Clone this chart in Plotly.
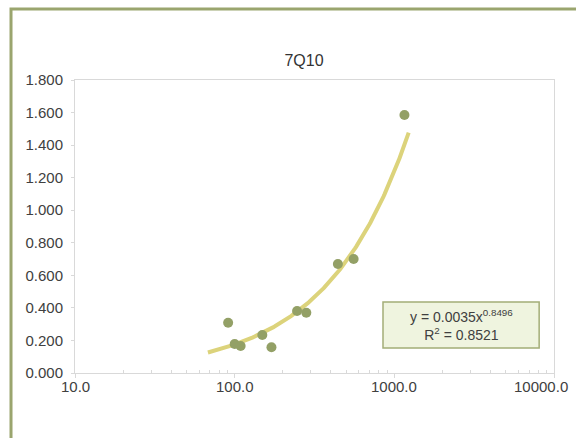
import numpy as np
import plotly.graph_objects as go

# Observed flows and 7Q10 values
flow = [91, 100, 109, 149, 170, 246, 281, 443, 556, 1157]
q7_10 = [0.309, 0.178, 0.166, 0.233, 0.158, 0.381, 0.370, 0.670, 0.700, 1.585]

# Power-law trendline y = a * x^b, reported R²
coef_a = 0.0035
coef_b = 0.8496
r_squared = 0.8521
trend_span = [68, 1230]

x_ticks = [10, 100, 1000, 10000]
x_tick_labels = ["10.0", "100.0", "1000.0", "10000.0"]
y_ticks = [0.0, 0.2, 0.4, 0.6, 0.8, 1.0, 1.2, 1.4, 1.6, 1.8]

FONT = "Liberation Sans, Arial, sans-serif"
TXT = "#404040"
AXIS = "#d9d9d9"

xt = np.logspace(np.log10(trend_span[0]), np.log10(trend_span[1]), 200)
yt = coef_a * xt ** coef_b

# minor ticks at 2..9 within each decade
minor_vals = [m * d for d in x_ticks[:-1] for m in range(2, 10)]

fig = go.Figure()
fig.add_trace(go.Scatter(x=xt, y=yt, mode="lines",
                         line=dict(color="#dcd37b", width=4),
                         hoverinfo="skip", showlegend=False))
fig.add_trace(go.Scatter(x=flow, y=q7_10, mode="markers",
                         marker=dict(color="#93a066", size=10),
                         showlegend=False))

fig.update_xaxes(type="log", range=[1, 4], tickvals=x_ticks,
                 showticklabels=False, ticks="outside", ticklen=4,
                 tickcolor=AXIS, showline=True, linecolor=AXIS, linewidth=1,
                 mirror=True, showgrid=False, zeroline=False,
                 minor=dict(tickvals=minor_vals, ticks="inside", ticklen=3,
                            tickcolor=AXIS, showgrid=False))
fig.update_yaxes(range=[0, 1.8], tickvals=y_ticks, tickformat=".3f",
                 ticks="outside", ticklen=3, tickcolor=AXIS,
                 ticklabelstandoff=5,
                 showline=True, linecolor=AXIS, linewidth=1, mirror=True,
                 showgrid=False, zeroline=False,
                 tickfont=dict(family=FONT, size=15, color=TXT))

# x tick labels drawn as annotations so the last one can stay inside the page
for v, lab in zip(x_ticks, x_tick_labels):
    fig.add_annotation(x=np.log10(v), y=0, xref="x", yref="y", text=lab,
                       showarrow=False, xanchor="center", yanchor="top",
                       yshift=-3,
                       xshift=-13 if v == x_ticks[-1] else 0,
                       font=dict(family=FONT, size=15, color=TXT))

# trendline equation box
fig.add_shape(type="rect", xref="paper", yref="paper",
              x0=0.643, x1=0.969, y0=0.0853, y1=0.2423,
              fillcolor="#eff4df", line=dict(color="#a3ad77", width=1.5))
fig.add_annotation(xref="paper", yref="paper", x=0.806, y=0.164,
                   xanchor="center", yanchor="middle",
                   showarrow=False, align="center",
                   text=(f"y = {coef_a:.4f}x<sup>{coef_b:.4f}</sup><br>"
                         f"R<sup>2</sup> = {r_squared:.4f}"),
                   font=dict(family=FONT, size=14, color=TXT))

# outer chart frame
fig.add_shape(type="rect", xref="paper", yref="paper",
              x0=-0.1336, x1=1.3, y0=-0.4, y1=1.2423,
              line=dict(color="#9aa56e", width=3), fillcolor="rgba(0,0,0,0)")

fig.update_layout(
    width=576, height=438,
    margin=dict(l=75, r=22, t=80, b=65),
    paper_bgcolor="white", plot_bgcolor="white",
    title=dict(text="7Q10", x=0.478, xref="paper", y=1 - 60 / 438,
               yanchor="middle", xanchor="center",
               font=dict(family=FONT, size=16, color="#333333")),
)

fig.write_html("out.html")
